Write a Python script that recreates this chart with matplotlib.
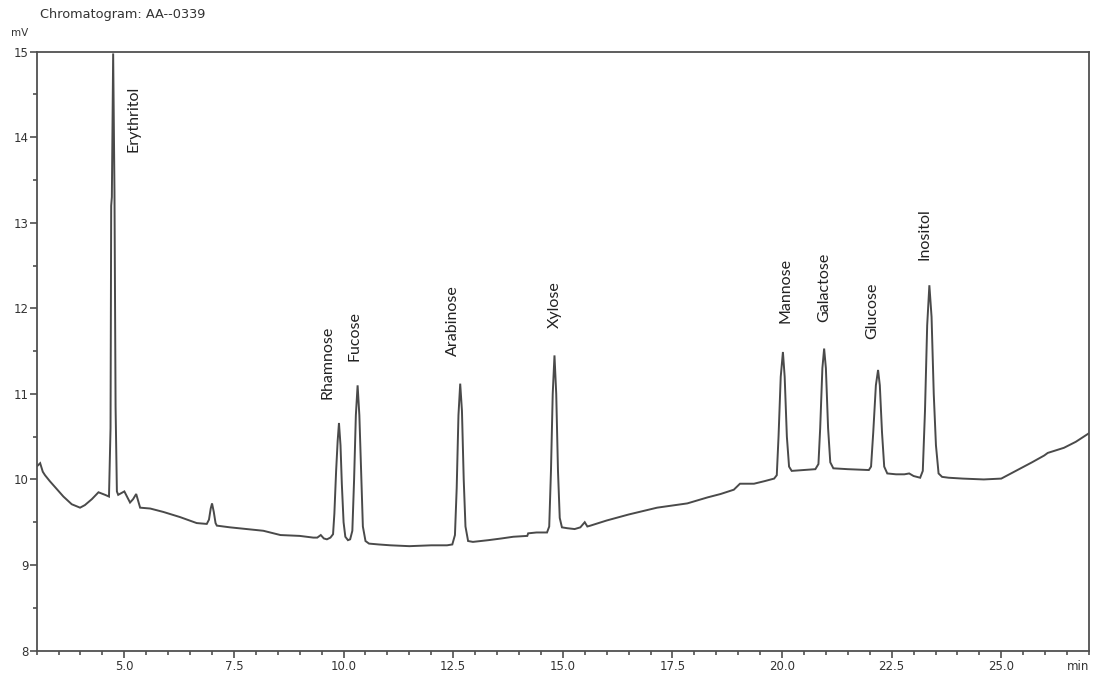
import matplotlib
matplotlib.use("Agg")
import matplotlib.pyplot as plt
from matplotlib.ticker import MultipleLocator, FixedLocator

# Detector trace (retention time in min, signal in mV)
trace_time = [
    3.02, 3.08, 3.14, 3.19, 3.30, 3.42, 3.61, 3.80, 3.99, 4.10, 4.26, 4.41, 4.56, 4.65,
    # Erythritol
    4.685, 4.70, 4.715, 4.745, 4.775, 4.80, 4.83,
    4.86, 4.93, 5.00, 5.13, 5.20, 5.27, 5.36, 5.59, 5.89, 6.27, 6.65, 6.88,
    6.93, 6.97, 7.00, 7.04, 7.08,
    7.11, 7.41, 7.80, 8.17, 8.56, 9.00, 9.31, 9.40, 9.48, 9.55, 9.62,
    # Rhamnose
    9.70, 9.76, 9.79, 9.83, 9.865, 9.895, 9.93, 9.96, 10.00, 10.04, 10.10,
    # Fucose
    10.15, 10.20, 10.24, 10.28, 10.32, 10.36, 10.40, 10.44, 10.50,
    10.58, 10.80, 11.07, 11.50, 12.00, 12.36,
    # Arabinose
    12.48, 12.54, 12.58, 12.62, 12.66, 12.70, 12.74, 12.78, 12.84,
    12.95, 13.30, 13.60, 13.87, 14.19, 14.21, 14.40,
    # Xylose
    14.64, 14.69, 14.73, 14.77, 14.81, 14.85, 14.89, 14.93, 14.98,
    15.10, 15.27, 15.40, 15.50, 15.56, 15.63, 16.00, 16.50, 17.15, 17.84,
    18.30, 18.60, 18.90, 19.04, 19.36, 19.60,
    # Mannose
    19.82, 19.88, 19.92, 19.97, 20.02, 20.06, 20.11, 20.16, 20.22,
    20.50,
    # Galactose
    20.76, 20.83, 20.87, 20.92, 20.96, 21.00, 21.05, 21.10, 21.17,
    21.50,
    # Glucose
    21.98, 22.03, 22.08, 22.14, 22.19, 22.23, 22.28, 22.33, 22.40,
    22.60, 22.79, 22.90, 23.00,
    # Inositol
    23.15, 23.21, 23.26, 23.31, 23.36, 23.41, 23.46, 23.51, 23.57,
    23.65, 23.80, 24.12, 24.60, 25.00, 25.37, 25.70, 25.98, 26.06, 26.43, 26.70, 27.00,
]
trace_mv = [
    10.16, 10.19, 10.09, 10.05, 9.98, 9.91, 9.80, 9.71, 9.67, 9.70, 9.77, 9.85, 9.82, 9.80,
    10.60, 13.20, 13.30, 14.98, 13.36, 10.85, 9.86,
    9.82, 9.84, 9.86, 9.73, 9.77, 9.83, 9.67, 9.66, 9.62, 9.56, 9.49, 9.48,
    9.53, 9.66, 9.72, 9.62, 9.49,
    9.46, 9.44, 9.42, 9.40, 9.35, 9.34, 9.32, 9.32, 9.35, 9.31, 9.30,
    9.32, 9.36, 9.60, 10.10, 10.45, 10.66, 10.40, 9.95, 9.50, 9.33, 9.29,
    9.30, 9.40, 10.00, 10.75, 11.10, 10.75, 10.10, 9.45, 9.28,
    9.25, 9.24, 9.23, 9.22, 9.23, 9.23,
    9.24, 9.35, 9.90, 10.75, 11.12, 10.80, 10.00, 9.45, 9.28,
    9.27, 9.29, 9.31, 9.33, 9.34, 9.37, 9.38,
    9.38, 9.45, 10.10, 11.00, 11.45, 11.00, 10.10, 9.55, 9.44,
    9.43, 9.42, 9.44, 9.50, 9.45, 9.46, 9.52, 9.59, 9.67, 9.72,
    9.79, 9.83, 9.88, 9.95, 9.95, 9.98,
    10.01, 10.05, 10.50, 11.20, 11.49, 11.20, 10.50, 10.15, 10.10,
    10.11,
    10.12, 10.18, 10.60, 11.30, 11.53, 11.30, 10.60, 10.20, 10.13,
    10.12,
    10.11, 10.15, 10.55, 11.10, 11.28, 11.10, 10.55, 10.15, 10.07,
    10.06, 10.06, 10.07, 10.04,
    10.02, 10.10, 10.80, 11.80, 12.27, 11.90, 11.00, 10.40, 10.07,
    10.03, 10.02, 10.01, 10.00, 10.01, 10.11, 10.20, 10.28, 10.31, 10.37, 10.44, 10.54,
]

# Peak identifications
peak_names = ["Erythritol", "Rhamnose", "Fucose", "Arabinose", "Xylose",
              "Mannose", "Galactose", "Glucose", "Inositol"]
label_time = [5.21, 9.64, 10.25, 12.50, 14.82, 20.07, 20.96, 22.06, 23.24]
label_mv = [13.83, 10.94, 11.39, 11.44, 11.77, 11.83, 11.84, 11.64, 12.56]

x_major = [5.0, 7.5, 10.0, 12.5, 15.0, 17.5, 20.0, 22.5, 25.0]
y_major = [8, 9, 10, 11, 12, 13, 14, 15]

axis_grey = "#505050"
text_grey = "#333333"

fig = plt.figure(figsize=(10.94, 6.77), dpi=100)
ax = fig.add_axes([0.0335, 0.0391, 0.9619, 0.8845])

ax.plot(trace_time, trace_mv, color="#4a4a4a", lw=1.4, solid_joinstyle="miter")

ax.set_xlim(3.0, 27.0)
ax.set_ylim(8.0, 15.0)

ax.xaxis.set_major_locator(FixedLocator(x_major))
ax.xaxis.set_minor_locator(MultipleLocator(0.5))
ax.yaxis.set_major_locator(FixedLocator(y_major))
ax.yaxis.set_minor_locator(MultipleLocator(0.5))
ax.set_xticklabels([f"{v:.1f}" for v in x_major])
ax.set_yticklabels([str(v) for v in y_major])

ax.tick_params(which="major", direction="out", length=5, width=1.2,
               color=axis_grey, labelsize=8.5, labelcolor=text_grey, pad=2)
ax.tick_params(which="minor", direction="out", length=3, width=1.2, color=axis_grey)
ax.tick_params(axis="y", which="major", pad=1)
for s in ax.spines.values():
    s.set_color(axis_grey)
    s.set_linewidth(1.3)

for name, t, v in zip(peak_names, label_time, label_mv):
    ax.text(t, v, name, rotation=90, ha="center", va="bottom",
            fontsize=11.5, family="Lato", color="#222222")

fig.text(0.0365, 0.978, "Chromatogram: AA--0339", fontsize=9.3,
         color=text_grey, ha="left", va="center")
fig.text(0.0105, 0.951, "mV", fontsize=7.5, color=text_grey, ha="left", va="center")
fig.text(0.996, 0.0155, "min", fontsize=8.5, color=text_grey, ha="right", va="center")

fig.savefig("out.png", dpi=100)
